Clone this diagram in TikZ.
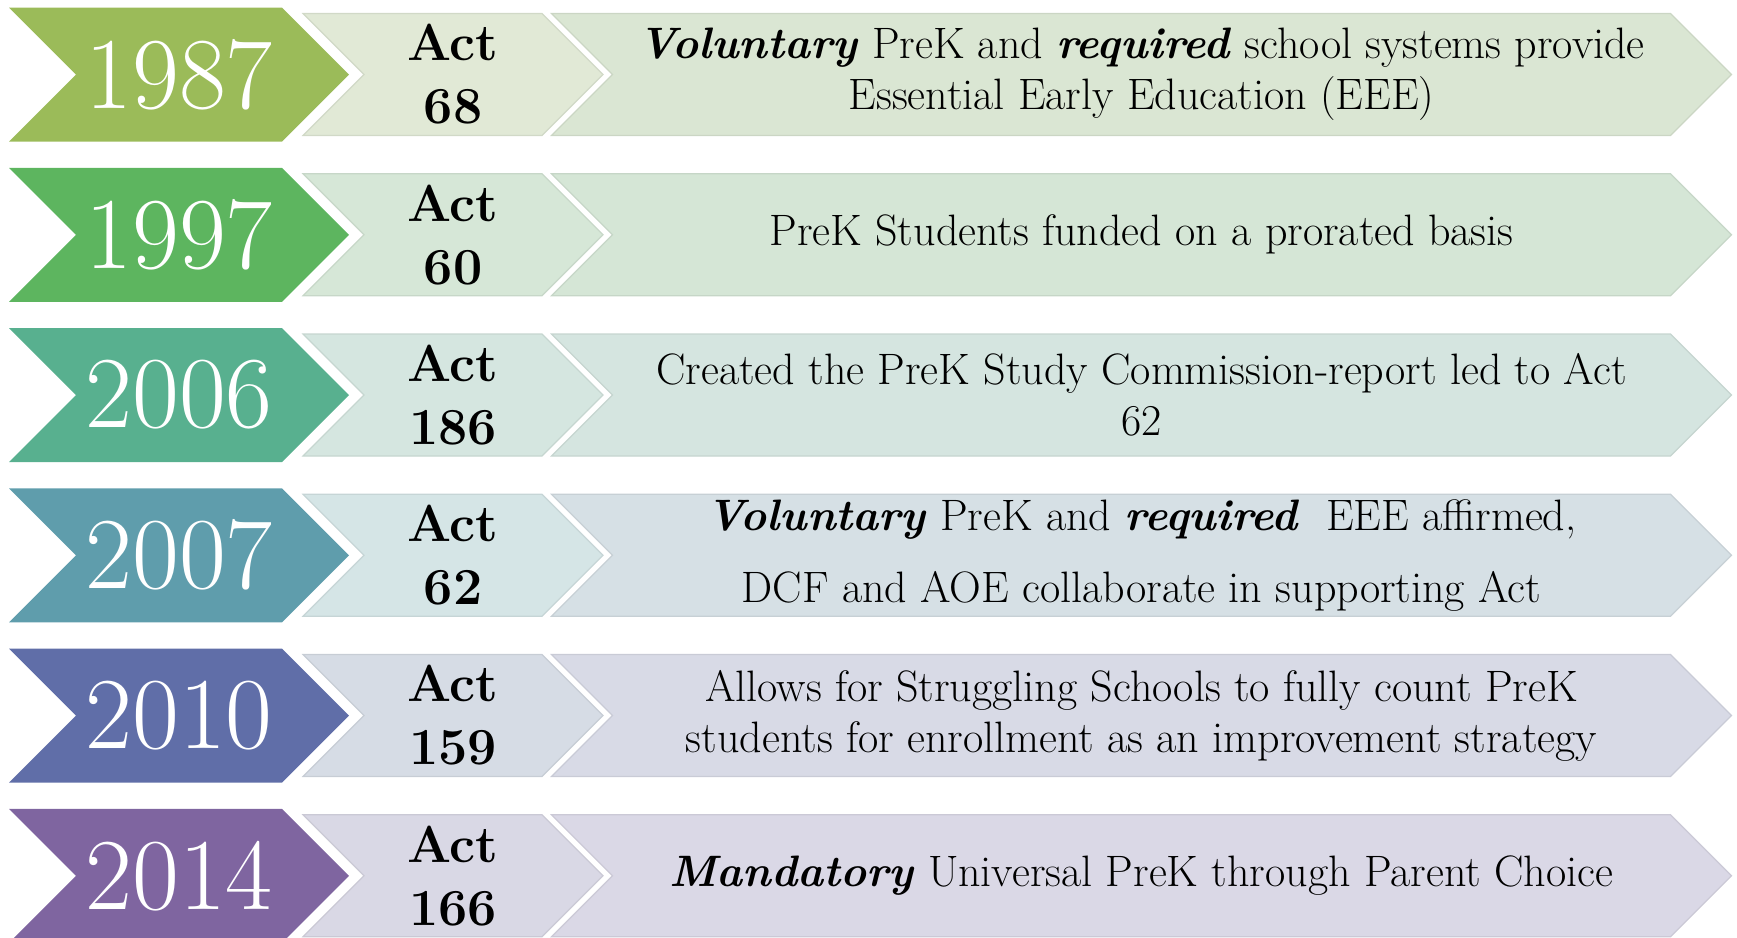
\documentclass[tikz,border=0pt]{standalone}
\usetikzlibrary{shapes.symbols}

\definecolor{yrA}{HTML}{9BBB59}
\definecolor{yrB}{HTML}{5DB55F}
\definecolor{yrC}{HTML}{58B08F}
\definecolor{yrD}{HTML}{5F9DAC}
\definecolor{yrE}{HTML}{606EA8}
\definecolor{yrF}{HTML}{7F65A0}
\definecolor{actA}{HTML}{E1E9D6}
\definecolor{actB}{HTML}{D6E7D7}
\definecolor{actC}{HTML}{D5E6E0}
\definecolor{actD}{HTML}{D5E5E6}
\definecolor{actE}{HTML}{D6DCE5}
\definecolor{actF}{HTML}{D9D8E5}
\definecolor{dscA}{HTML}{DAE6D3}
\definecolor{dscB}{HTML}{D5E6D6}
\definecolor{dscC}{HTML}{D5E5E0}
\definecolor{dscD}{HTML}{D6E0E5}
\definecolor{dscE}{HTML}{D8DAE6}
\definecolor{dscF}{HTML}{DAD8E6}

\newcommand{\bi}[1]{\textbf{\textit{#1}}}

\begin{document}
\begin{tikzpicture}[x=0.5pt,y=-0.5pt,
	year/.style={ signal, signal from=west, signal to=east, fill=#1, inner sep=0pt, minimum width=170pt, minimum height=67pt, text=white, font=\fontsize{51}{60}\selectfont },
	act/.style={ signal, signal from=west, signal to=east, fill=#1, draw=#1!93!black, line width=0.6pt, inner sep=0pt, minimum width=150pt, minimum height=61pt, align=center, font=\bfseries\fontsize{26}{31.5}\selectfont },
	desc/.style={ signal, signal from=west, signal to=east, fill=#1, draw=#1!93!black, line width=0.6pt, inner sep=0pt, minimum width=590pt, minimum height=61pt, align=center, font=\fontsize{22}{25.5}\selectfont }
]
\useasboundingbox (0,0) rectangle (1737,938);

\node at (179,74.5) (y87) [year=yrA] {1987};
\node at (453,74.5) (a87) [act=actA] {Act\\68};
\node at (1141.5,74.5) (d87) [desc=dscA] {\bi{Voluntary} PreK and \bi{required} school systems provide\\Essential Early Education (EEE)};

\node at (179,234.75) (y97) [year=yrB] {1997};
\node at (453,234.75) (a97) [act=actB] {Act\\60};
\node at (1141.5,234.75) (d97) [desc=dscB] {PreK Students funded on a prorated basis};

\node at (179,395) (y06) [year=yrC] {2006};
\node at (453,395) (a06) [act=actC] {Act\\186};
\node at (1141.5,395) (d06) [desc=dscC] {Created the PreK Study Commission-report led to Act\\62};

\node at (179,555.25) (y07) [year=yrD] {2007};
\node at (453,555.25) (a07) [act=actD] {Act\\62};
\node at (1141.5,555.25) (d07) [desc=dscD] {\bi{Voluntary} PreK and \bi{required}\ \ EEE affirmed,\\[10.5pt]DCF and AOE collaborate in supporting Act};

\node at (179,715.5) (y10) [year=yrE] {2010};
\node at (453,715.5) (a10) [act=actE] {Act\\159};
\node at (1141.5,715.5) (d10) [desc=dscE] {Allows for Struggling Schools to fully count PreK\\students for enrollment as an improvement strategy};

\node at (179,875.75) (y14) [year=yrF] {2014};
\node at (453,875.75) (a14) [act=actF] {Act\\166};
\node at (1141.5,875.75) (d14) [desc=dscF] {\bi{Mandatory} Universal PreK through Parent Choice};

\end{tikzpicture}
\end{document}
